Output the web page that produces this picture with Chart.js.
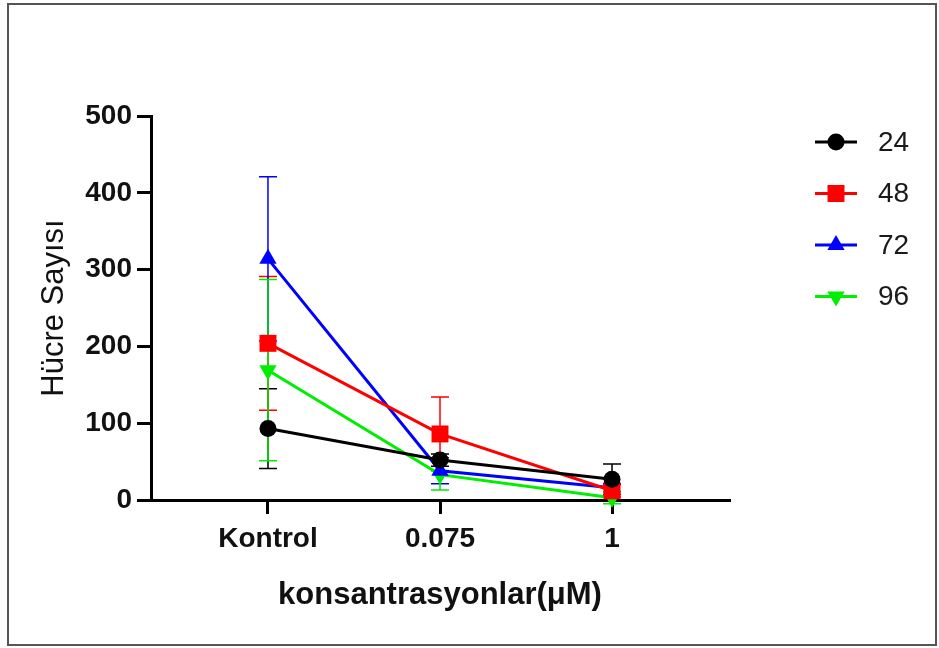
<!DOCTYPE html>
<html>
<head>
<meta charset="utf-8">
<script src="https://cdn.jsdelivr.net/npm/chart.js@4.4.1/dist/chart.umd.min.js"></script>
<style>
  html, body { margin: 0; padding: 0; background: #fff; }
  canvas { display: block; }
</style>
</head>
<body>
<canvas id="c" width="939" height="648"></canvas>
<script>
// ---- data ----
const categories = ['Kontrol', '0.075', '1'];
const seriesLabels = ['24', '48', '72', '96'];
const values24 = [93, 52, 27];
const values48 = [204, 86, 12];
const values72 = [314, 38, 16];
const values96 = [169, 33, 3];
const sd24 = [52, 8, 20];
const sd48 = [87, 48, 8];
const sd72 = [107, 17, 5];
const sd96 = [118, 20, 8];
const yTicks = [0, 100, 200, 300, 400, 500];

const FONT = '"Liberation Sans", Arial, Helvetica, sans-serif';
const colors = ['#000000', '#ff0000', '#0000ff', '#00ee00'];
const styles = [
  { pointStyle: 'circle', radius: 8.5, rotation: 0 },
  { pointStyle: 'rect', radius: 12, rotation: 0 },
  { pointStyle: 'triangle', radius: 10, rotation: 0 },
  { pointStyle: 'triangle', radius: 10, rotation: 180 }
];
const allValues = [values24, values48, values72, values96];
const allSd = [sd24, sd48, sd72, sd96];

const datasets = seriesLabels.map((lab, i) => ({
  label: lab,
  data: allValues[i].map((v, k) => ({ x: k, y: v })),
  sd: allSd[i],
  borderColor: colors[i],
  backgroundColor: colors[i],
  borderWidth: 3,
  pointStyle: styles[i].pointStyle,
  pointRadius: styles[i].radius,
  pointRotation: styles[i].rotation,
  pointBorderWidth: 0,
  pointHoverRadius: styles[i].radius,
  showLine: true,
  tension: 0,
  clip: false
}));

const errorBars = {
  id: 'errorBars',
  beforeDatasetsDraw(chart) {
    const ctx = chart.ctx;
    const xs = chart.scales.x, ys = chart.scales.y;
    chart.data.datasets.forEach((ds) => {
      ctx.save();
      ctx.strokeStyle = ds.borderColor;
      ctx.lineWidth = 1.5;
      ds.data.forEach((p, k) => {
        const e = ds.sd[k];
        const px = xs.getPixelForValue(p.x);
        const yTop = ys.getPixelForValue(p.y + e);
        const yBot = ys.getPixelForValue(p.y - e);
        const cap = 9;
        ctx.beginPath();
        ctx.moveTo(px, yTop); ctx.lineTo(px, yBot);
        ctx.moveTo(px - cap, yTop); ctx.lineTo(px + cap, yTop);
        ctx.moveTo(px - cap, yBot); ctx.lineTo(px + cap, yBot);
        ctx.stroke();
      });
      ctx.restore();
    });
  }
};

const customLegend = {
  id: 'customLegend',
  afterDraw(chart) {
    const ctx = chart.ctx;
    ctx.save();
    chart.data.datasets.forEach((ds, i) => {
      const y = 142 + i * 51.5;
      ctx.strokeStyle = ds.borderColor;
      ctx.lineWidth = 3;
      ctx.beginPath();
      ctx.moveTo(815, y); ctx.lineTo(857, y);
      ctx.stroke();
      ctx.fillStyle = ds.backgroundColor;
      Chart.helpers.drawPoint(ctx, {
        pointStyle: ds.pointStyle, radius: ds.pointRadius,
        rotation: ds.pointRotation, borderWidth: 0
      }, 836, y);
      ctx.fillStyle = '#1a1a1a';
      ctx.font = '28px ' + FONT;
      ctx.textBaseline = 'middle';
      ctx.textAlign = 'left';
      ctx.fillText(ds.label, 878, y + 1);
    });
    ctx.restore();
  }
};

const frame = {
  id: 'frame',
  afterDraw(chart) {
    const ctx = chart.ctx;
    ctx.save();
    ctx.strokeStyle = '#555';
    ctx.lineWidth = 2;
    ctx.strokeRect(8, 4, 928, 641);
    ctx.restore();
  }
};

new Chart(document.getElementById('c'), {
  type: 'scatter',
  data: { datasets },
  plugins: [errorBars, customLegend, frame],
  options: {
    responsive: false,
    animation: false,
    devicePixelRatio: 1,
    layout: { padding: { top: 116, right: 210, left: 0, bottom: 0 } },
    plugins: { legend: { display: false }, tooltip: { enabled: false } },
    scales: {
      x: {
        type: 'linear',
        min: -0.68,
        max: 2.68,
        afterFit(s) { s.height = 148; },
        afterBuildTicks(s) { s.ticks = categories.map((c, k) => ({ value: k })); },
        ticks: {
          callback: (v) => categories[v],
          font: { family: FONT, size: 28, weight: 'bold' },
          color: '#111',
          padding: 8,
          maxRotation: 0,
          autoSkip: false
        },
        grid: { drawOnChartArea: false, drawTicks: true, tickLength: 14, color: '#000', lineWidth: 3 },
        border: { display: true, color: '#000', width: 3 },
        title: {
          display: true,
          text: 'konsantrasyonlar(\u03bcM)',
          font: { family: FONT, size: 31, weight: 'bold' },
          color: '#111',
          padding: { top: 0, bottom: 34 }
        }
      },
      y: {
        type: 'linear',
        min: 0,
        max: 500,
        afterFit(s) { s.width = 151; },
        afterBuildTicks(s) { s.ticks = yTicks.map(v => ({ value: v })); },
        ticks: {
          font: { family: FONT, size: 28, weight: 'bold' },
          color: '#111',
          padding: 5
        },
        grid: { drawOnChartArea: false, drawTicks: true, tickLength: 14, color: '#000', lineWidth: 3 },
        border: { display: true, color: '#000', width: 3 },
        title: {
          display: true,
          text: 'Hücre Sayısı',
          font: { family: FONT, size: 31, weight: 'normal' },
          color: '#111',
          padding: { top: 36, bottom: 0 }
        }
      }
    }
  }
});
</script>
</body>
</html>
